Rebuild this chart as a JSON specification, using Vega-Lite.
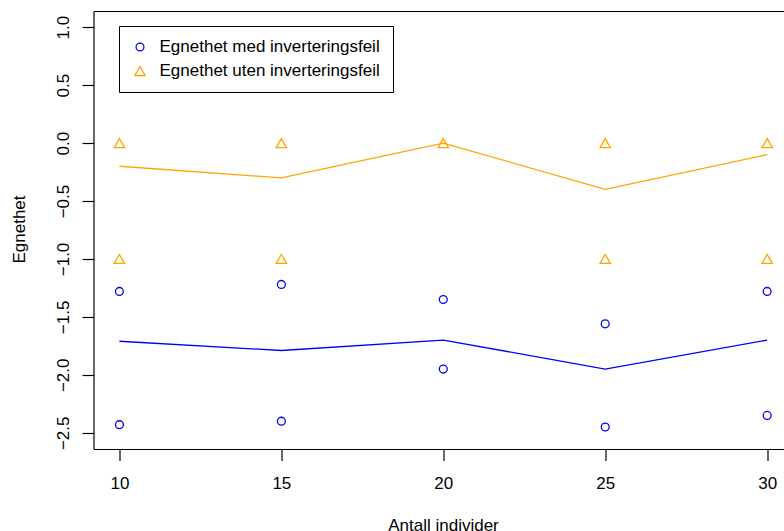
{
  "$schema": "https://vega.github.io/schema/vega-lite/v6.json",
  "width": 690.5,
  "height": 438,
  "autosize": {"type": "none"},
  "padding": {"left": 93.5, "top": 11, "right": 0, "bottom": 82},
  "background": "white",
  "config": {
    "view": {"stroke": null},
    "font": "Liberation Sans",
    "axis": {
      "grid": false,
      "domainColor": "black",
      "domainWidth": 1.2,
      "tickColor": "black",
      "tickWidth": 1.2,
      "tickSize": 11.5,
      "labelFont": "Liberation Sans",
      "labelFontSize": 17,
      "labelColor": "black",
      "labelFlush": false,
      "labelOverlap": false,
      "titleFont": "Liberation Sans",
      "titleFontSize": 17,
      "titleFontWeight": "normal",
      "titleColor": "black"
    }
  },
  "datasets": {
    "runs": [
      {"individer": 10, "egnethet": -1.28, "serie": "Egnethet med inverteringsfeil"},
      {"individer": 10, "egnethet": -2.43, "serie": "Egnethet med inverteringsfeil"},
      {"individer": 15, "egnethet": -1.22, "serie": "Egnethet med inverteringsfeil"},
      {"individer": 15, "egnethet": -2.40, "serie": "Egnethet med inverteringsfeil"},
      {"individer": 20, "egnethet": -1.35, "serie": "Egnethet med inverteringsfeil"},
      {"individer": 20, "egnethet": -1.95, "serie": "Egnethet med inverteringsfeil"},
      {"individer": 25, "egnethet": -1.56, "serie": "Egnethet med inverteringsfeil"},
      {"individer": 25, "egnethet": -2.45, "serie": "Egnethet med inverteringsfeil"},
      {"individer": 30, "egnethet": -1.28, "serie": "Egnethet med inverteringsfeil"},
      {"individer": 30, "egnethet": -2.35, "serie": "Egnethet med inverteringsfeil"},
      {"individer": 10, "egnethet": 0, "serie": "Egnethet uten inverteringsfeil"},
      {"individer": 10, "egnethet": -1, "serie": "Egnethet uten inverteringsfeil"},
      {"individer": 15, "egnethet": 0, "serie": "Egnethet uten inverteringsfeil"},
      {"individer": 15, "egnethet": -1, "serie": "Egnethet uten inverteringsfeil"},
      {"individer": 20, "egnethet": 0, "serie": "Egnethet uten inverteringsfeil"},
      {"individer": 25, "egnethet": 0, "serie": "Egnethet uten inverteringsfeil"},
      {"individer": 25, "egnethet": -1, "serie": "Egnethet uten inverteringsfeil"},
      {"individer": 30, "egnethet": 0, "serie": "Egnethet uten inverteringsfeil"},
      {"individer": 30, "egnethet": -1, "serie": "Egnethet uten inverteringsfeil"}
    ],
    "means": [
      {"individer": 10, "egnethet": -1.71, "serie": "Egnethet med inverteringsfeil"},
      {"individer": 15, "egnethet": -1.79, "serie": "Egnethet med inverteringsfeil"},
      {"individer": 20, "egnethet": -1.70, "serie": "Egnethet med inverteringsfeil"},
      {"individer": 25, "egnethet": -1.95, "serie": "Egnethet med inverteringsfeil"},
      {"individer": 30, "egnethet": -1.70, "serie": "Egnethet med inverteringsfeil"},
      {"individer": 10, "egnethet": -0.2, "serie": "Egnethet uten inverteringsfeil"},
      {"individer": 15, "egnethet": -0.3, "serie": "Egnethet uten inverteringsfeil"},
      {"individer": 20, "egnethet": 0.0, "serie": "Egnethet uten inverteringsfeil"},
      {"individer": 25, "egnethet": -0.4, "serie": "Egnethet uten inverteringsfeil"},
      {"individer": 30, "egnethet": -0.1, "serie": "Egnethet uten inverteringsfeil"}
    ]
  },
  "encoding": {
    "y": {
      "field": "egnethet",
      "type": "quantitative",
      "scale": {"domain": [-2.64, 1.14], "nice": false, "zero": false},
      "axis": {
        "values": [-2.5, -2, -1.5, -1, -0.5, 0, 0.5, 1],
        "format": ".1f",
        "labelAngle": -90,
        "labelAlign": "center",
        "labelBaseline": "alphabetic",
        "labelPadding": 13.7,
        "title": "Egnethet",
        "titleAngle": -90,
        "titleAlign": "center",
        "titleBaseline": "alphabetic",
        "titleX": -68.8,
        "titleY": 218
      }
    },
    "color": {
      "field": "serie",
      "type": "nominal",
      "title": null,
      "scale": {
        "domain": ["Egnethet med inverteringsfeil", "Egnethet uten inverteringsfeil"],
        "range": ["#0000ff", "#ffa500"]
      },
      "legend": {
        "orient": "none",
        "legendX": 25.5,
        "legendY": 15,
        "strokeColor": "black",
        "fillColor": "white",
        "padding": 12.5,
        "rowPadding": 6,
        "labelFont": "Liberation Sans",
        "labelFontSize": 17,
        "labelColor": "black",
        "labelLimit": 0,
        "labelOffset": 11,
        "symbolStrokeWidth": 1.3,
        "symbolSize": 80
      }
    }
  },
  "layer": [
    {
      "data": {"name": "means"},
      "mark": {"type": "line", "strokeWidth": 1.3},
      "encoding": {
        "x": {
          "field": "individer",
          "type": "quantitative",
          "scale": {"domain": [9.2, 30.52], "nice": false, "zero": false},
          "axis": {"orient": "top", "labels": false, "ticks": false, "title": null}
        }
      }
    },
    {
      "data": {"name": "runs"},
      "mark": {"type": "point", "filled": false, "strokeWidth": 1.3, "opacity": 1},
      "encoding": {
        "x": {
          "field": "individer",
          "type": "quantitative",
          "scale": {"domain": [9.2, 30.52], "nice": false, "zero": false},
          "axis": {
            "orient": "bottom",
            "values": [10, 15, 20, 25, 30],
            "labelBaseline": "alphabetic",
            "labelPadding": 28,
            "title": "Antall individer",
            "titleBaseline": "alphabetic",
            "titleAlign": "center",
            "titleX": 349.5,
            "titleY": 81
          }
        },
        "shape": {
          "field": "serie",
          "type": "nominal",
          "title": null,
          "scale": {
            "domain": ["Egnethet med inverteringsfeil", "Egnethet uten inverteringsfeil"],
            "range": ["circle", "triangle-up"]
          }
        },
        "size": {
          "field": "serie",
          "type": "nominal",
          "title": null,
          "scale": {
            "domain": ["Egnethet med inverteringsfeil", "Egnethet uten inverteringsfeil"],
            "range": [62, 108]
          }
        }
      }
    }
  ],
  "resolve": {"axis": {"x": "independent"}}
}
